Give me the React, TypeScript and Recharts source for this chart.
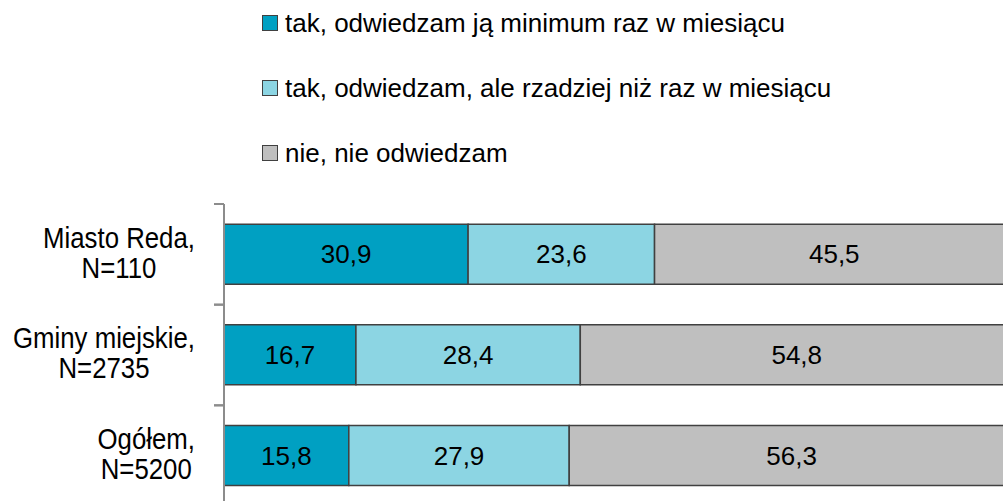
import { BarChart, Bar, XAxis, YAxis, Legend, LabelList } from "recharts";

// Values (percent of respondents).
const categories = ["Miasto Reda,\nN=110", "Gminy miejskie,\nN=2735", "Ogółem,\nN=5200"];
const monthly = [30.9, 16.7, 15.8];
const rarely = [23.6, 28.4, 27.9];
const never = [45.5, 54.8, 56.3];
const seriesNames = [
  "tak, odwiedzam ją minimum raz w miesiącu",
  "tak, odwiedzam, ale rzadziej niż raz w miesiącu",
  "nie, nie odwiedzam",
];

const COLORS = ["#00a0c2", "#8cd5e3", "#bfbfbf"];
const BORDER = "#404040";
const FONT = "'Liberation Sans', Arial, sans-serif";
const FONT_SIZE = 26;
// category labels are in a narrow face; no narrow font here, so squeeze the regular one
const CAT_SIZE = 30;
const CAT_SQUEEZE = 0.86;

const rows = categories.map((name, i) => ({
  name,
  monthly: monthly[i],
  rarely: rarely[i],
  never: never[i],
}));

const fmt = (v: unknown) => (typeof v === "number" ? v.toFixed(1).replace(".", ",") : String(v ?? ""));

let ctx: CanvasRenderingContext2D | null = null;
function textWidth(s: string): number {
  if (!ctx) ctx = document.createElement("canvas").getContext("2d");
  if (!ctx) return s.length * CAT_SIZE * 0.5 * CAT_SQUEEZE;
  ctx.font = `${CAT_SIZE}px ${FONT}`;
  return ctx.measureText(s).width * CAT_SQUEEZE;
}

// Excel-style label: block right-aligned to the axis, lines centred inside it.
// Tick marks sit between categories, not in the middle of them.
function CategoryTick(props: any) {
  const { y, payload } = props;
  const axisX = 224;
  const half = payload?.offset ?? 50;
  const lines = String(payload.value).split("\n");
  const blockW = Math.max(...lines.map(textWidth));
  const cx = axisX - 29 - blockW / 2;
  const lh = 30;
  return (
    <g>
      <line x1={axisX - 10} x2={axisX} y1={y - half} y2={y - half} stroke="#8c8c8c" strokeWidth={2} />
      <line x1={axisX - 10} x2={axisX} y1={y + half} y2={y + half} stroke="#8c8c8c" strokeWidth={2} />
      <text
        transform={`translate(${cx} 0) scale(${CAT_SQUEEZE} 1)`}
        textAnchor="middle"
        fontFamily={FONT}
        fontSize={CAT_SIZE}
        fill="#000"
      >
        {lines.map((l, i) => (
          <tspan key={i} x={0} y={y + (i - (lines.length - 1) / 2) * lh + 8.3}>
            {l}
          </tspan>
        ))}
      </text>
    </g>
  );
}

function LegendBox() {
  return (
    <div style={{ position: "relative", width: 1020, height: 180 }}>
      {seriesNames.map((n, i) => (
        <div
          key={n}
          style={{
            position: "absolute",
            left: 262,
            top: 23 + i * 65 - 15,
            height: 30,
            display: "flex",
            alignItems: "center",
            fontFamily: FONT,
            fontSize: FONT_SIZE,
            color: "#000",
            whiteSpace: "nowrap",
          }}
        >
          <span
            style={{
              display: "inline-block",
              width: 14,
              height: 14,
              background: COLORS[i],
              border: `1.5px solid ${BORDER}`,
              marginRight: 7,
            }}
          />
          {n}
        </div>
      ))}
    </div>
  );
}

export default function App() {
  const keys = ["monthly", "rarely", "never"];
  return (
    <div style={{ position: "absolute", left: 0, top: 0, width: 1003, height: 501, overflow: "hidden", background: "#fff" }}>
      <BarChart
        width={1020}
        height={520}
        data={rows}
        layout="vertical"
        barCategoryGap="20%"
        margin={{ top: 24, right: 6, left: 0, bottom: 14 }}
      >
        <Legend verticalAlign="top" align="left" content={<LegendBox />} wrapperStyle={{ left: 0, top: 0 }} />
        <XAxis type="number" domain={[0, 100]} hide />
        <YAxis
          type="category"
          dataKey="name"
          width={224}
          axisLine={{ stroke: "#8c8c8c", strokeWidth: 2 }}
          tickLine={false}
          tick={<CategoryTick />}
          interval={0}
        />
        {keys.map((k, i) => (
          <Bar
            key={k}
            dataKey={k}
            name={seriesNames[i]}
            stackId="a"
            fill={COLORS[i]}
            stroke={BORDER}
            strokeWidth={1.5}
            isAnimationActive={false}
          >
            <LabelList dataKey={k} position="center" formatter={fmt} fill="#000" fontFamily={FONT} fontSize={FONT_SIZE} />
          </Bar>
        ))}
      </BarChart>
    </div>
  );
}
